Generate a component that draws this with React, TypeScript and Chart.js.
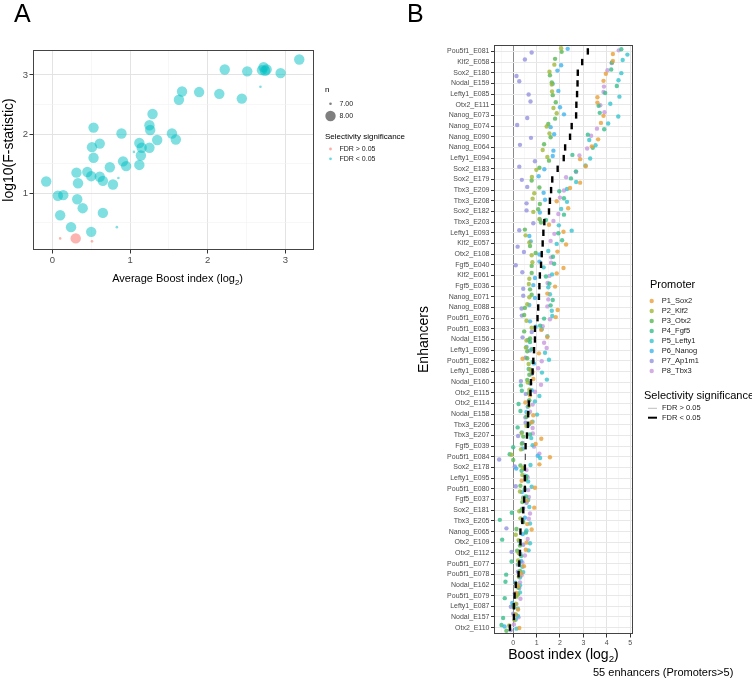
import React, { useEffect, useRef } from 'react';
import { Chart, registerables } from 'chart.js';
Chart.register(...registerables);

const FONT = '"Liberation Sans", Arial, Helvetica, sans-serif';
const TICK_COLOR = '#4D4D4D';

// ---------------- Panel A data ----------------
const avgBoost = [3.18, 2.94, 2.74, 2.72, 2.70, 2.51, 2.22, 2.44, 2.15, 1.89, 1.67, 1.63, 1.29, 1.25, 1.26, 1.54, 1.59, 1.35, 1.25, 1.12, 1.15, 1.14, 1.12, 0.89, 0.91, 0.95, 0.53, 0.51, 0.61, 0.53, 0.74, 0.45, 0.31, 0.50, 0.61, 0.65, 0.78, 0.33, -0.08, 0.07, 0.14, 0.10, 0.32, 0.39, 0.65, 0.24, 0.50, 2.76, 2.68, 1.05, 0.85, 0.83, 0.30, 0.10, 0.51];
const logFStat = [3.26, 3.03, 3.07, 3.13, 3.08, 3.06, 3.09, 2.60, 2.68, 2.71, 2.72, 2.58, 2.34, 2.15, 2.07, 2.01, 1.91, 1.90, 1.77, 1.85, 1.77, 1.64, 1.48, 2.01, 1.54, 1.46, 2.11, 1.78, 1.84, 1.60, 1.44, 1.36, 1.35, 1.29, 1.28, 1.21, 1.15, 1.17, 1.20, 0.96, 0.97, 0.63, 0.90, 0.75, 0.67, 0.43, 0.35, 3.09, 2.80, 1.70, 1.26, 0.43, 0.24, 0.24, 0.19];
const nPromoters = [8, 8, 8, 8, 8, 8, 8, 8, 8, 8, 8, 8, 8, 8, 8, 8, 8, 8, 8, 8, 8, 8, 8, 8, 8, 8, 8, 8, 8, 8, 8, 8, 8, 8, 8, 8, 8, 8, 8, 8, 8, 8, 8, 8, 8, 8, 8, 8, 7, 7, 7, 7, 8, 7, 7];
const fdrSignificant = [true, true, true, true, true, true, true, true, true, true, true, true, true, true, true, true, true, true, true, true, true, true, true, true, true, true, true, true, true, true, true, true, true, true, true, true, true, true, true, true, true, true, true, true, true, true, true, true, true, true, true, true, false, false, false];
const aXTicks = [0, 1, 2, 3];
const aYTicks = [1, 2, 3];
const sizeLevels = ['7.00', '8.00'];
const fdrLevels = ['FDR > 0.05', 'FDR < 0.05'];

// ---------------- Panel B data ----------------
const enhancers = ['Pou5f1_E081', 'Klf2_E058', 'Sox2_E180', 'Nodal_E159', 'Lefty1_E085', 'Otx2_E111', 'Nanog_E073', 'Nanog_E074', 'Nanog_E090', 'Nanog_E064', 'Lefty1_E094', 'Sox2_E183', 'Sox2_E179', 'Tbx3_E209', 'Tbx3_E208', 'Sox2_E182', 'Tbx3_E203', 'Lefty1_E093', 'Klf2_E057', 'Otx2_E108', 'Fgf5_E040', 'Klf2_E061', 'Fgf5_E036', 'Nanog_E071', 'Nanog_E088', 'Pou5f1_E076', 'Pou5f1_E083', 'Nodal_E156', 'Lefty1_E096', 'Pou5f1_E082', 'Lefty1_E086', 'Nodal_E160', 'Otx2_E115', 'Otx2_E114', 'Nodal_E158', 'Tbx3_E206', 'Tbx3_E207', 'Fgf5_E039', 'Pou5f1_E084', 'Sox2_E178', 'Lefty1_E095', 'Pou5f1_E080', 'Fgf5_E037', 'Sox2_E181', 'Tbx3_E205', 'Nanog_E065', 'Otx2_E109', 'Otx2_E112', 'Pou5f1_E077', 'Pou5f1_E078', 'Nodal_E162', 'Pou5f1_E079', 'Lefty1_E087', 'Nodal_E157', 'Otx2_E110'];
const promoters = ['P1_Sox2', 'P2_Klf2', 'P3_Otx2', 'P4_Fgf5', 'P5_Lefty1', 'P6_Nanog', 'P7_Ap1m1', 'P8_Tbx3'];
const promoterColors = ['rgba(232,160,56,0.8)', 'rgba(160,184,56,0.8)', 'rgba(88,184,88,0.8)', 'rgba(56,190,140,0.8)', 'rgba(56,196,206,0.8)', 'rgba(64,180,238,0.8)', 'rgba(150,148,222,0.8)', 'rgba(200,152,224,0.8)'];
const boostP1 = [4.26, 4.26, 3.96, 3.86, 3.6, 3.6, 3.86, 3.75, 3.63, 3.36, 2.86, 3.1, 2.86, 2.43, 1.86, 2.35, 1.53, 2.15, 2.26, 1.89, 2.15, 1.86, 1.79, 1.46, 1.9, 1.82, 1.2, 1.46, 1.1, 0.4, 0.83, 0.86, 0.72, 0.52, 0.86, 0.79, 1.2, 0.96, 1.57, 1.12, 0.36, 0.93, 0.6, 0.9, 0.6, 0.79, 0.57, 0.54, 0.46, 0.34, 0.21, 0.14, 0.21, 0.09, 0.26];
const boostP2 = [2.05, 1.76, 1.55, 1.65, 1.66, 1.72, 1.86, 1.43, 1.55, 1.26, 1.46, 0.99, 0.8, 0.9, 0.83, 0.86, 1.12, 0.53, 0.69, 0.79, 0.82, 0.69, 0.67, 0.69, 0.6, 0.57, 0.79, 0.57, 0.54, 0.66, 0.72, 0.62, 0.69, 0.66, 0.64, 0.57, 0.36, 0.33, -0.07, 0.41, 0.39, 0.29, 0.43, 0.26, 0.31, 0.11, 0.23, 0.24, 0.21, 0.24, 0.14, 0.14, 0.11, 0.06, -0.17];
const boostP3 = [2.07, 1.79, 1.57, 1.65, 1.69, 1.82, 1.79, 1.5, 1.6, 1.32, 1.53, 1.12, 0.79, 1.12, 1.14, 1.07, 1.19, 0.5, 0.72, 0.96, 0.79, 0.79, 0.72, 0.79, 0.5, 0.47, 0.47, 0.72, 0.6, 0.6, 0.69, 0.6, 0.67, 0.69, 0.57, 0.69, 0.43, 0.37, 0.0, 0.31, 0.54, 0.31, 0.39, 0.37, 0.43, 0.14, 0.29, 0.17, 0.24, 0.29, 0.21, 0.2, 0.04, 0.11, -0.29];
const boostP4 = [4.62, 4.22, 4.19, 4.43, 3.93, 3.65, 3.7, 3.89, 3.19, 3.4, 2.53, 2.68, 2.47, 1.97, 2.17, 2.17, 1.4, 1.93, 2.09, 1.7, 1.75, 1.4, 1.55, 1.69, 1.6, 1.32, 1.15, 0.72, 0.79, 0.83, 0.66, 0.33, 0.37, 0.23, 0.31, 0.19, 0.72, 0.0, -0.15, 0.36, 0.57, 0.5, 0.55, -0.06, -0.57, 0.54, -0.47, 0.34, -0.07, -0.3, -0.33, -0.36, 0.0, -0.43, -0.5];
const boostP5 = [4.88, 4.68, 4.62, 4.5, 4.54, 4.15, 4.49, 4.06, 3.25, 3.52, 3.29, 3.09, 2.69, 2.3, 2.3, 2.05, 1.95, 2.5, 1.86, 1.5, 1.3, 1.66, 1.5, 1.57, 1.65, 1.67, 1.22, 1.46, 1.36, 1.53, 1.23, 1.44, 1.12, 0.93, 1.02, 0.83, 0.77, 0.83, 1.15, 0.74, 0.64, 0.79, 0.64, 0.69, 0.72, 0.57, 0.72, 0.66, 0.39, 0.43, 0.29, 0.29, 0.2, 0.2, 0.14];
const boostP6 = [2.33, 2.05, 1.89, 1.69, 1.93, 2.0, 2.17, 1.6, 1.75, 1.72, 1.69, 1.33, 1.09, 1.3, 1.36, 1.14, 1.14, 0.69, 0.75, 1.12, 1.12, 0.93, 0.86, 0.93, 0.69, 0.72, 0.96, 0.64, 0.57, 0.89, 0.77, 0.72, 0.79, 0.62, 0.57, 0.64, 0.37, 0.4, 1.05, 0.13, 0.5, 0.37, 0.43, 0.33, 0.5, 0.4, 0.26, 0.31, 0.34, 0.29, 0.09, 0.09, -0.04, 0.11, -0.37];
const boostP7 = [0.79, 0.5, 0.14, 0.26, 0.66, 0.74, 0.6, 0.17, 0.76, 0.29, 0.93, 0.26, 0.37, 0.6, 0.57, 0.57, 0.86, 0.26, 0.19, 0.46, 0.11, 0.39, 0.43, 0.43, 0.36, 0.37, 0.79, 0.4, 0.72, 0.53, 0.79, 0.33, 0.54, 0.66, 0.52, 0.53, 0.21, 0.4, -0.6, 0.07, 0.53, 0.11, 0.57, 0.43, 0.4, -0.29, 0.43, -0.07, 0.2, 0.2, 0.26, 0.07, -0.1, 0.0, -0.11];
const boostP8 = [4.51, 4.21, 4.03, 3.88, 3.86, 3.72, 3.9, 3.58, 3.33, 3.16, 2.83, 2.69, 2.26, 2.17, 2.0, 1.93, 1.72, 1.76, 1.6, 1.62, 1.62, 1.55, 1.47, 1.5, 1.46, 1.57, 1.26, 1.32, 1.43, 1.22, 1.07, 1.19, 0.93, 0.83, 0.72, 0.83, 0.84, 0.89, 1.12, 0.57, 0.62, 0.64, 0.67, 0.72, 0.67, 0.55, 0.62, 0.5, 0.39, 0.36, 0.29, 0.31, 0.14, 0.23, 0.03];
const meanBoost = [3.19, 2.95, 2.76, 2.75, 2.73, 2.70, 2.69, 2.5, 2.43, 2.22, 2.16, 1.9, 1.67, 1.62, 1.57, 1.53, 1.33, 1.29, 1.26, 1.22, 1.19, 1.14, 1.12, 1.1, 1.07, 1.04, 0.93, 0.93, 0.89, 0.86, 0.83, 0.76, 0.74, 0.67, 0.64, 0.63, 0.59, 0.53, 0.52, 0.5, 0.5, 0.5, 0.47, 0.43, 0.39, 0.31, 0.31, 0.29, 0.26, 0.23, 0.11, 0.06, 0.03, 0.03, -0.14];
const nonSignificantEnhancers = ['Pou5f1_E084'];
const bXTicks = [0, 1, 2, 3, 4, 5];
const boostByPromoter = [boostP1, boostP2, boostP3, boostP4, boostP5, boostP6, boostP7, boostP8];

// style-only vertical jitter pattern (fraction of a row)
const JITTER = [0.24, -0.2, 0.1, -0.3, 0.3, -0.1, 0.04, -0.24];

function halfSteps(ticks: number[], lo: number, hi: number) {
  const out: number[] = [];
  for (let v = Math.ceil(lo * 2) / 2; v <= hi + 1e-9; v += 0.5) out.push(Math.round(v * 2) / 2);
  return out;
}

function txt(ctx: CanvasRenderingContext2D, s: string, x: number, y: number, size: number, o: any = {}) {
  ctx.save();
  ctx.font = `${size}px ${FONT}`;
  ctx.fillStyle = o.color || '#000';
  ctx.textAlign = o.align || 'left';
  ctx.textBaseline = o.baseline || 'middle';
  if (o.rotate) {
    ctx.translate(x, y);
    ctx.rotate(o.rotate);
    ctx.fillText(s, 0, 0);
  } else ctx.fillText(s, x, y);
  ctx.restore();
}

function subTitle(ctx: CanvasRenderingContext2D, before: string, sub: string, after: string, cx: number, cy: number, size: number) {
  ctx.save();
  ctx.fillStyle = '#000';
  ctx.textBaseline = 'middle';
  ctx.textAlign = 'left';
  ctx.font = `${size}px ${FONT}`;
  const w1 = ctx.measureText(before).width;
  const w3 = ctx.measureText(after).width;
  ctx.font = `${size * 0.7}px ${FONT}`;
  const w2 = ctx.measureText(sub).width;
  const x0 = cx - (w1 + w2 + w3) / 2;
  ctx.font = `${size}px ${FONT}`;
  ctx.fillText(before, x0, cy);
  ctx.fillText(after, x0 + w1 + w2, cy);
  ctx.font = `${size * 0.7}px ${FONT}`;
  ctx.fillText(sub, x0 + w1, cy + size * 0.32);
  ctx.restore();
}

const isInt = (v: number) => Math.abs(v - Math.round(v)) < 1e-6;

function gridOpts(zeroLine = false) {
  return {
    color: (c: any) => {
      const v = c.tick ? c.tick.value : 0;
      if (zeroLine && Math.abs(v) < 1e-6) return '#8A8A8A';
      return isInt(v) ? '#E3E3E3' : '#F1F1F1';
    },
    lineWidth: (c: any) => {
      const v = c.tick ? c.tick.value : 0;
      if (zeroLine && Math.abs(v) < 1e-6) return 1;
      return isInt(v) ? 1 : 0.6;
    },
    tickColor: (c: any) => (c.tick && isInt(c.tick.value) ? '#333333' : 'rgba(0,0,0,0)'),
    tickLength: 3.5,
    tickWidth: 1,
    drawTicks: true,
  };
}

const panelAPlugin = {
  id: 'panelA',
  afterDraw(chart: any) {
    const { ctx, chartArea: ca } = chart;
    ctx.save();
    ctx.strokeStyle = '#444';
    ctx.lineWidth = 1;
    ctx.strokeRect(ca.left + 0.5, ca.top + 0.5, ca.right - ca.left - 1, ca.bottom - ca.top - 1);
    ctx.restore();
    txt(ctx, 'A', 14, 15, 25);
    txt(ctx, 'log10(F-statistic)', 9, (ca.top + ca.bottom) / 2, 14, { align: 'center', rotate: -Math.PI / 2 });
    subTitle(ctx, 'Average Boost index (log', '2', ')', (ca.left + ca.right) / 2 + 4, 279, 11);
    // legend
    const lx = 325;
    txt(ctx, 'n', lx, 90, 8);
    const radii = [1.3, 5.2];
    sizeLevels.forEach((lab, i) => {
      const y = 103.7 + i * 12.3;
      ctx.save();
      ctx.fillStyle = 'rgba(0,0,0,0.5)';
      ctx.beginPath();
      ctx.arc(lx + 5.5, y, radii[i], 0, Math.PI * 2);
      ctx.fill();
      ctx.restore();
      txt(ctx, lab, lx + 14.5, y, 7, { color: '#222' });
    });
    txt(ctx, 'Selectivity significance', lx, 136.5, 8);
    const cols = ['rgba(248,118,109,0.6)', 'rgba(0,191,196,0.6)'];
    fdrLevels.forEach((lab, i) => {
      const y = 149 + i * 9.8;
      ctx.save();
      ctx.fillStyle = cols[i];
      ctx.beginPath();
      ctx.arc(lx + 5.5, y, 1.4, 0, Math.PI * 2);
      ctx.fill();
      ctx.restore();
      txt(ctx, lab, lx + 14.5, y, 7, { color: '#222' });
    });
  },
};

const panelBPlugin = {
  id: 'panelB',
  afterDraw(chart: any) {
    const { ctx, chartArea: ca } = chart;
    ctx.save();
    ctx.strokeStyle = '#444';
    ctx.lineWidth = 1;
    ctx.strokeRect(ca.left + 0.5, ca.top + 0.5, ca.right - ca.left - 1, ca.bottom - ca.top - 1);
    ctx.restore();
    txt(ctx, 'B', 27, 15, 25);
    txt(ctx, 'Enhancers', 44, (ca.top + ca.bottom) / 2, 14, { align: 'center', rotate: -Math.PI / 2 });
    subTitle(ctx, 'Boost index (log', '2', ')', (ca.left + ca.right) / 2, 655, 14);
    txt(ctx, '55 enhancers (Promoters>5)', 213, 673, 11);
    // promoter legend
    txt(ctx, 'Promoter', 270, 285, 11);
    promoters.forEach((p, i) => {
      const y = 301 + i * 10;
      ctx.save();
      ctx.fillStyle = promoterColors[i];
      ctx.beginPath();
      ctx.arc(271.7, y, 2.2, 0, Math.PI * 2);
      ctx.fill();
      ctx.restore();
      txt(ctx, p, 281.7, y, 7.5, { color: '#222' });
    });
    txt(ctx, 'Selectivity significance', 264, 396, 11);
    fdrLevels.forEach((lab, i) => {
      const y = 408.3 + i * 9.4;
      ctx.save();
      ctx.strokeStyle = i === 0 ? '#BDBDBD' : '#000';
      ctx.lineWidth = i === 0 ? 1 : 2;
      ctx.beginPath();
      ctx.moveTo(268, y);
      ctx.lineTo(277, y);
      ctx.stroke();
      ctx.restore();
      txt(ctx, lab, 282, y, 7.5, { color: '#222' });
    });
  },
};

function configA(): any {
  const pts = avgBoost.map((x, i) => ({ x, y: logFStat[i] }));
  return {
    type: 'scatter',
    data: {
      datasets: [
        {
          data: pts,
          pointRadius: (c: any) => (nPromoters[c.dataIndex] === 8 ? 5.2 : 1.3),
          pointBackgroundColor: (c: any) => (fdrSignificant[c.dataIndex] ? 'rgba(0,191,196,0.5)' : 'rgba(248,118,109,0.55)'),
          pointBorderWidth: 0,
          pointHoverRadius: 5,
        },
      ],
    },
    options: {
      responsive: false,
      animation: false,
      devicePixelRatio: 1,
      layout: { padding: { left: 0, top: 50, right: 106, bottom: 0 } },
      plugins: { legend: { display: false }, tooltip: { enabled: false } },
      scales: {
        x: {
          type: 'linear',
          min: -0.25,
          max: 3.37,
          afterBuildTicks: (s: any) => { s.ticks = halfSteps(aXTicks, -0.25, 3.37).map((v) => ({ value: v })); },
          afterFit: (s: any) => { s.height = 50; },
          ticks: {
            callback: (v: any) => (aXTicks.includes(v) ? String(v) : ''),
            font: { family: FONT, size: 9.5 },
            color: TICK_COLOR,
            maxRotation: 0,
            padding: 1,
            autoSkip: false,
          },
          grid: gridOpts(),
          border: { display: false },
        },
        y: {
          type: 'linear',
          min: 0.044,
          max: 3.42,
          afterBuildTicks: (s: any) => { s.ticks = halfSteps(aYTicks, 0.044, 3.42).map((v) => ({ value: v })); },
          afterFit: (s: any) => { s.width = 33; },
          ticks: {
            callback: (v: any) => (aYTicks.includes(v) ? String(v) : ''),
            font: { family: FONT, size: 9.5 },
            color: TICK_COLOR,
            padding: 1.5,
            autoSkip: false,
          },
          grid: gridOpts(),
          border: { display: false },
        },
      },
    },
    plugins: [panelAPlugin],
  };
}

function configB(): any {
  const sig = enhancers.map((e) => !nonSignificantEnhancers.includes(e));
  const datasets: any[] = [
    {
      data: meanBoost.map((m, i) => ({ x: m, y: i })),
      pointStyle: 'line',
      rotation: 90,
      pointRadius: 3.2,
      pointBorderWidth: (c: any) => (sig[c.dataIndex] ? 2.4 : 1.2),
      pointBorderColor: (c: any) => (sig[c.dataIndex] ? '#000' : '#555'),
      pointBackgroundColor: '#000',
    },
  ];
  boostByPromoter.forEach((arr, p) => {
    datasets.push({
      data: arr.map((v, r) => ({ x: v, y: r + JITTER[(p * 3 + r * 5) % 8] })),
      pointRadius: 2.2,
      pointBackgroundColor: promoterColors[p],
      pointBorderWidth: 0,
    });
  });
  const yTicks = enhancers.map((_, i) => i);
  return {
    type: 'scatter',
    data: { datasets },
    options: {
      responsive: false,
      animation: false,
      devicePixelRatio: 1,
      layout: { padding: { left: 0, top: 45, right: 119, bottom: 0 } },
      plugins: { legend: { display: false }, tooltip: { enabled: false } },
      scales: {
        x: {
          type: 'linear',
          min: -0.82,
          max: 5.12,
          afterBuildTicks: (s: any) => { s.ticks = halfSteps(bXTicks, -0.82, 5.12).map((v) => ({ value: v })); },
          afterFit: (s: any) => { s.height = 44; },
          ticks: {
            callback: (v: any) => (bXTicks.includes(v) ? String(v) : ''),
            font: { family: FONT, size: 7 },
            color: TICK_COLOR,
            maxRotation: 0,
            padding: 1,
            autoSkip: false,
          },
          grid: gridOpts(true),
          border: { display: false },
        },
        y: {
          type: 'linear',
          reverse: true,
          min: -0.6,
          max: enhancers.length - 1 + 0.6,
          afterBuildTicks: (s: any) => { s.ticks = yTicks.map((v) => ({ value: v })); },
          afterFit: (s: any) => { s.width = 114; },
          ticks: {
            callback: (v: any) => enhancers[v] ?? '',
            font: { family: FONT, size: 7 },
            color: TICK_COLOR,
            padding: 1.5,
            autoSkip: false,
          },
          grid: {
            color: '#E8E8E8',
            lineWidth: 1,
            tickColor: '#333',
            tickLength: 3,
            tickWidth: 1,
          },
          border: { display: false },
        },
      },
    },
    plugins: [panelBPlugin],
  };
}

export default function App() {
  const refA = useRef<HTMLCanvasElement>(null);
  const refB = useRef<HTMLCanvasElement>(null);
  useEffect(() => {
    const a = new Chart(refA.current as HTMLCanvasElement, configA());
    const b = new Chart(refB.current as HTMLCanvasElement, configB());
    return () => {
      a.destroy();
      b.destroy();
    };
  }, []);
  return (
    <div style={{ position: 'absolute', left: 0, top: 0, width: 752, height: 678, background: '#fff', overflow: 'hidden' }}>
      <canvas ref={refA} width={420} height={300} style={{ position: 'absolute', left: 0, top: 0, width: 420, height: 300 }} />
      <canvas ref={refB} width={372} height={678} style={{ position: 'absolute', left: 380, top: 0, width: 372, height: 678 }} />
    </div>
  );
}
